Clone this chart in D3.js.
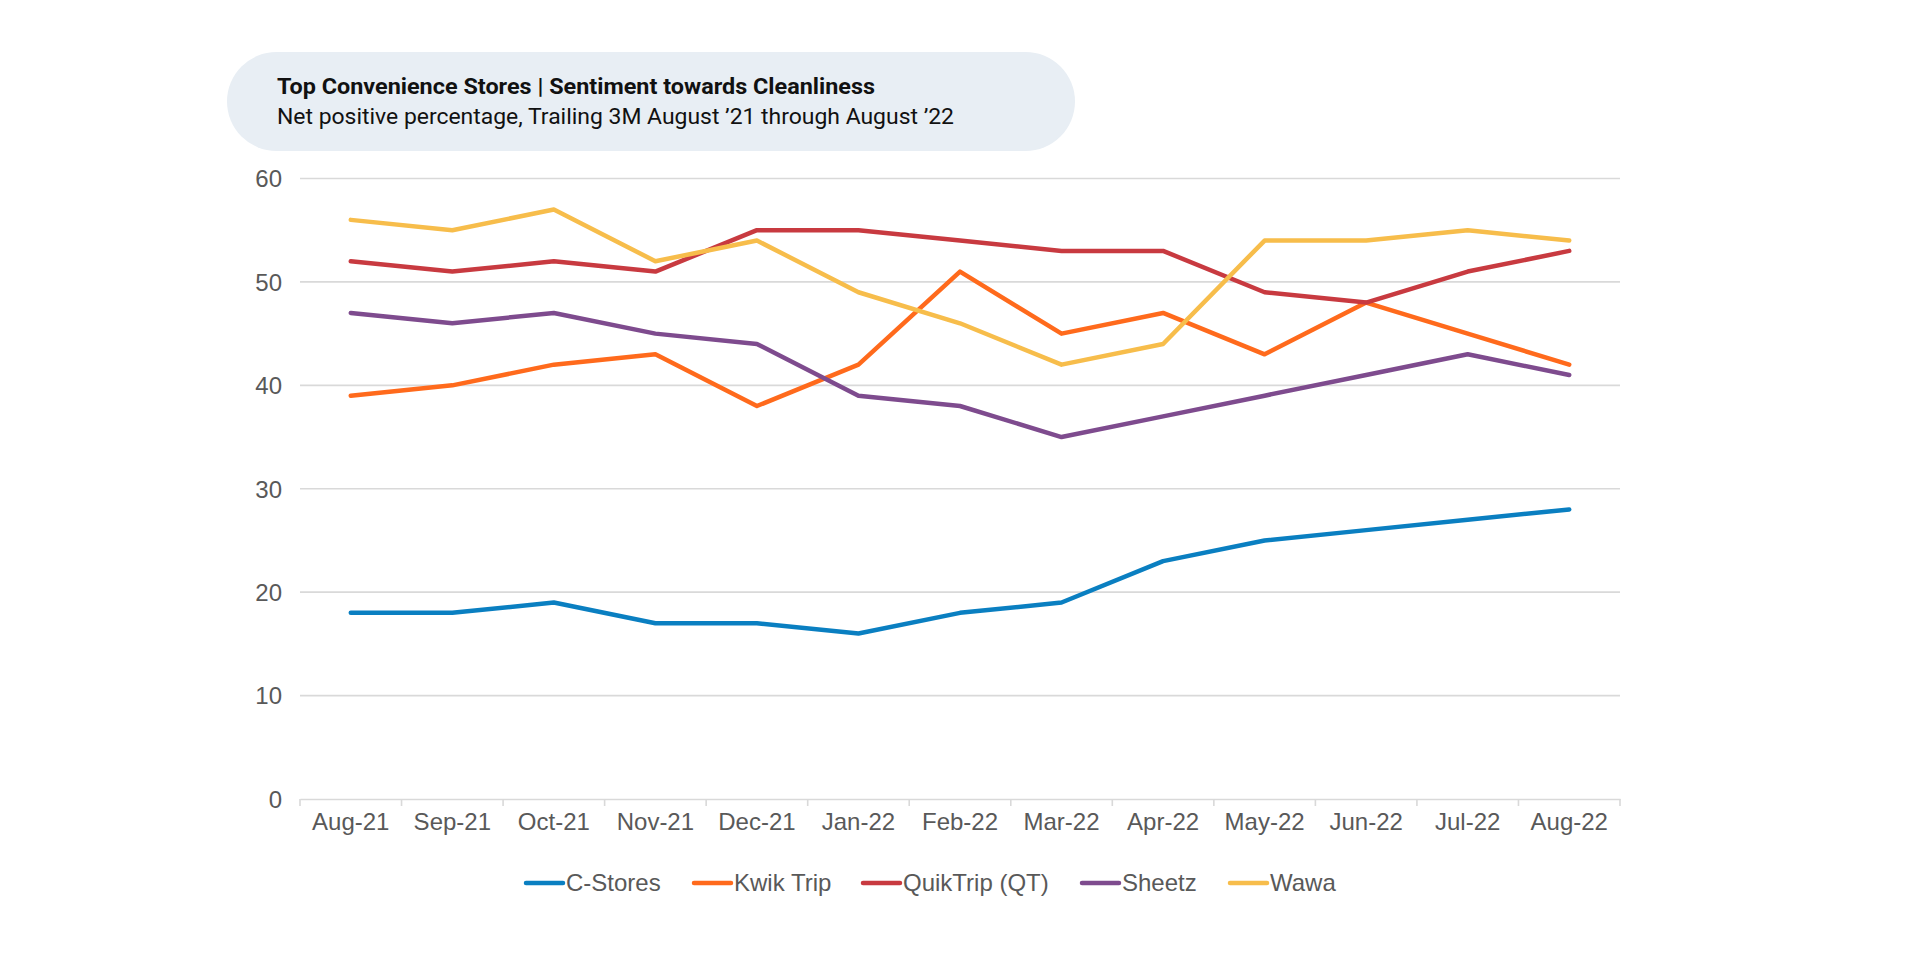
<!DOCTYPE html>
<html><head><meta charset="utf-8">
<script src="https://cdn.jsdelivr.net/npm/d3@7"></script>
<style>html,body{margin:0;padding:0;background:#fff;}svg{display:block;}</style>
</head><body>
<script>
const months = ["Aug-21","Sep-21","Oct-21","Nov-21","Dec-21","Jan-22","Feb-22","Mar-22","Apr-22","May-22","Jun-22","Jul-22","Aug-22"];
const seriesNames = ["C-Stores","Kwik Trip","QuikTrip (QT)","Sheetz","Wawa"];
const cStores  = [18,18,19,17,17,16,18,19,23,25,26,27,28];
const kwikTrip = [39,40,42,43,38,42,51,45,47,43,48,45,42];
const quikTrip = [52,51,52,51,55,55,54,53,53,49,48,51,53];
const sheetz   = [47,46,47,45,44,39,38,35,37,39,41,43,41];
const wawa     = [56,55,57,52,54,49,46,42,44,54,54,55,54];
const yTicks = [0,10,20,30,40,50,60];
const colors = ["#0A7FC1","#FF6A1C","#C83A40","#7E4B8E","#F7BD4B"];
const title = "Top Convenience Stores | Sentiment towards Cleanliness";
const subtitle = "Net positive percentage, Trailing 3M August \u201921 through August \u201922";

const series = [cStores,kwikTrip,quikTrip,sheetz,wawa].map((v,i)=>({name:seriesNames[i], values:v, color:colors[i]}));

const W=1920,H=966;
const svg = d3.select("body").append("svg").attr("width",W).attr("height",H);
const font = "'Liberation Sans', Arial, Helvetica, sans-serif";
const textColor = "#595959";

// title box
svg.append("rect").attr("x",227).attr("y",52).attr("width",848).attr("height",99)
  .attr("rx",49.5).attr("fill","#E8EEF4");
svg.append("text").attr("x",277).attr("y",94).text(title)
  .attr("font-family","Roboto, sans-serif").attr("font-weight","bold").attr("font-size",21.5)
  .attr("fill","#111").attr("textLength",598).attr("lengthAdjust","spacingAndGlyphs");
svg.append("text").attr("x",277).attr("y",124).text(subtitle)
  .attr("font-family","Roboto, sans-serif").attr("font-size",21.5)
  .attr("fill","#111").attr("textLength",677).attr("lengthAdjust","spacingAndGlyphs");

const x = d3.scaleBand().domain(months).range([300,1620]).paddingInner(0).paddingOuter(0);
const y = d3.scaleLinear().domain([0,60]).range([799,178.5]);

// gridlines
const grid = svg.append("g");
grid.selectAll("line").data(yTicks.filter(d=>d>0)).join("line")
  .attr("x1",300).attr("x2",1620).attr("y1",d=>y(d)).attr("y2",d=>y(d))
  .attr("stroke","#D9D9D9").attr("stroke-width",1.6);

// y axis labels
const yAxis = d3.axisLeft(y).tickValues(yTicks).tickSize(0).tickPadding(0);
const gy = svg.append("g").attr("transform","translate(282,0)").call(yAxis);
gy.select(".domain").remove();
gy.selectAll("text").attr("font-family",font).attr("font-size",24).attr("fill",textColor).attr("dy","0.35em");

// x axis
const xAxis = d3.axisBottom(x).tickSize(0).tickPadding(0);
const gx = svg.append("g").attr("transform","translate(0,799)").call(xAxis);
gx.select(".domain").attr("stroke","#D9D9D9").attr("stroke-width",1.6);
gx.selectAll("text").attr("font-family",font).attr("font-size",24).attr("fill",textColor).attr("y",31).attr("dy","0");
// tick marks at band boundaries
const bounds = months.map(m=>x(m)).concat([x(months[months.length-1])+x.bandwidth()]);
svg.append("g").selectAll("line").data(bounds).join("line")
  .attr("x1",d=>d).attr("x2",d=>d).attr("y1",799).attr("y2",806)
  .attr("stroke","#D9D9D9").attr("stroke-width",1.6);

// lines
const line = d3.line().x((d,i)=>x(months[i])+x.bandwidth()/2).y(d=>y(d));
svg.append("g").selectAll("path").data(series).join("path")
  .attr("d",d=>line(d.values)).attr("fill","none").attr("stroke",d=>d.color)
  .attr("stroke-width",4.5).attr("stroke-linejoin","round").attr("stroke-linecap","round");

// legend
const legendX = [524,692,861,1080,1228];
const lg = svg.append("g").selectAll("g").data(series).join("g")
  .attr("transform",(d,i)=>`translate(${legendX[i]},883)`);
lg.append("line").attr("x1",2).attr("x2",39).attr("y1",0).attr("y2",0)
  .attr("stroke",d=>d.color).attr("stroke-width",4.5).attr("stroke-linecap","round");
lg.append("text").attr("x",42).attr("y",0).attr("dy","0.35em").text(d=>d.name)
  .attr("font-family",font).attr("font-size",24).attr("fill",textColor);
</script>
</body></html>
